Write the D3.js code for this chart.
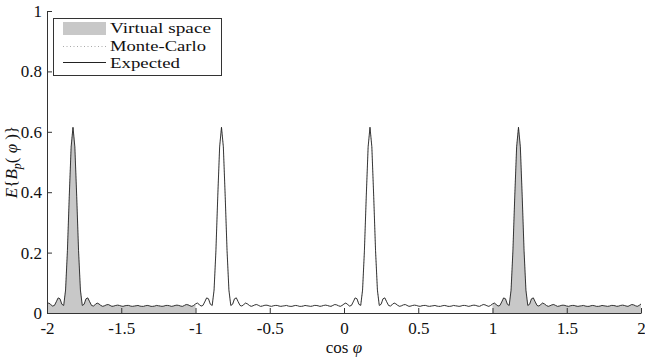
<!DOCTYPE html>
<html>
<head>
<meta charset="utf-8">
<script src="https://cdn.jsdelivr.net/npm/d3@7"></script>
<style>
  html, body { margin: 0; padding: 0; background: #fff; }
  svg { display: block; }
  text { font-family: "Liberation Serif", "DejaVu Serif", serif; fill: #111; }
</style>
</head>
<body>
<svg id="chart" width="645" height="358"></svg>
<script>
// ---- data ----
const xDomain = [-2, 2];
const yDomain = [0, 1];
const xTickValues = [-2, -1.5, -1, -0.5, 0, 0.5, 1, 1.5, 2];
const xTickLabels = ["-2", "-1.5", "-1", "-0.5", "0", "0.5", "1", "1.5", "2"];
const yTickValues = [0, 0.2, 0.4, 0.6, 0.8, 1];
const yTickLabels = ["0", "0.2", "0.4", "0.6", "0.8", "1"];
const virtualSpaceRanges = [[-2, -1], [1, 2]];
const legendLabels = ["Virtual space", "Monte-Carlo", "Expected"];
const sampleStart = -2;
const sampleStep = 0.0125;
// Expected beampattern E{B_p(phi)}, sampled every 0.0125 in cos(phi) from -2 to 2
const expected = [
0.030,0.033,0.028,0.023,0.025,0.037,0.050,0.047,0.029,0.025,0.076,0.206,0.387,0.550,
0.615,
0.550,0.387,0.206,0.076,0.025,0.029,0.047,0.050,0.037,0.025,0.023,0.028,0.033,0.030,0.025,0.022,0.024,0.027,0.028,0.025,0.022,0.023,0.025,0.026,0.025,0.023,0.022,0.024,0.025,0.025,0.023,0.022,0.023,0.024,0.025,0.023,0.022,0.022,0.024,0.025,
0.024,0.022,0.022,0.023,0.025,0.024,0.023,0.022,0.023,0.025,0.025,0.024,0.022,0.023,0.025,0.026,0.025,0.023,0.022,0.025,0.028,0.027,0.024,0.022,0.025,0.030,0.033,0.028,0.023,0.025,0.037,0.050,0.047,0.029,0.025,0.076,0.206,0.387,0.550,
0.615,
0.550,0.387,0.206,0.076,0.025,0.029,0.047,0.050,0.037,0.025,0.023,0.028,0.033,0.030,0.025,0.022,0.024,0.027,0.028,0.025,0.022,0.023,0.025,0.026,0.025,0.023,0.022,0.024,0.025,0.025,0.023,0.022,0.023,0.024,0.025,0.023,0.022,0.022,0.024,0.025,
0.024,0.022,0.022,0.023,0.025,0.024,0.023,0.022,0.023,0.025,0.025,0.024,0.022,0.023,0.025,0.026,0.025,0.023,0.022,0.025,0.028,0.027,0.024,0.022,0.025,0.030,0.033,0.028,0.023,0.025,0.037,0.050,0.047,0.029,0.025,0.076,0.206,0.387,0.550,
0.615,
0.550,0.387,0.206,0.076,0.025,0.029,0.047,0.050,0.037,0.025,0.023,0.028,0.033,0.030,0.025,0.022,0.024,0.027,0.028,0.025,0.022,0.023,0.025,0.026,0.025,0.023,0.022,0.024,0.025,0.025,0.023,0.022,0.023,0.024,0.025,0.023,0.022,0.022,0.024,0.025,
0.024,0.022,0.022,0.023,0.025,0.024,0.023,0.022,0.023,0.025,0.025,0.024,0.022,0.023,0.025,0.026,0.025,0.023,0.022,0.025,0.028,0.027,0.024,0.022,0.025,0.030,0.033,0.028,0.023,0.025,0.037,0.050,0.047,0.029,0.025,0.076,0.206,0.387,0.550,
0.615,
0.550,0.387,0.206,0.076,0.025,0.029,0.047,0.050,0.037,0.025,0.023,0.028,0.033,0.030,0.025,0.022,0.024,0.027,0.028,0.025,0.022,0.023,0.025,0.026,0.025,0.023,0.022,0.024,0.025,0.025,0.023,0.022,0.023,0.024,0.025,0.023,0.022,0.022,0.024,0.025,
0.024,0.022,0.022,0.023,0.025,0.024,0.023,0.022,0.023,0.025,0.025,0.024,0.022,0.023,0.025,0.026,0.025,0.023,0.022,0.025,0.028,0.027,0.024,0.022,0.025,0.030
];

// ---- layout ----
const svg = d3.select("#chart");
const margin = { left: 47, right: 4, top: 11, bottom: 45 };
const W = 645, H = 358;
const x = d3.scaleLinear().domain(xDomain).range([margin.left, W - margin.right]);
const y = d3.scaleLinear().domain(yDomain).range([H - margin.bottom, margin.top]);

const pts = expected.map((v, i) => ({ x: sampleStart + i * sampleStep, y: v }));

// Virtual space fill
const area = d3.area().x(d => x(d.x)).y0(y(0)).y1(d => y(d.y));
virtualSpaceRanges.forEach(r => {
  const sub = pts.filter(d => d.x >= r[0] - 1e-9 && d.x <= r[1] + 1e-9);
  svg.append("path").datum(sub).attr("d", area)
    .attr("fill", "#c8c8c8").attr("stroke", "none");
});

// Monte-Carlo (dotted, hidden beneath expected)
const line = d3.line().x(d => x(d.x)).y(d => y(d.y));
svg.append("path").datum(pts).attr("d", line)
  .attr("fill", "none").attr("stroke", "#bbbbbb").attr("stroke-width", 0.8)
  .attr("stroke-dasharray", "1,2");

// Expected
svg.append("path").datum(pts).attr("d", line)
  .attr("fill", "none").attr("stroke", "#222").attr("stroke-width", 0.9)
  .attr("stroke-linejoin", "round");

// Axes
const xAxis = d3.axisBottom(x).tickValues(xTickValues)
  .tickFormat((d, i) => xTickLabels[i]).tickSizeInner(-5).tickSizeOuter(0).tickPadding(9);
const yAxis = d3.axisLeft(y).tickValues(yTickValues)
  .tickFormat((d, i) => yTickLabels[i]).tickSizeInner(-5).tickSizeOuter(0).tickPadding(5);

const gx = svg.append("g").attr("transform", `translate(0,${y(0)})`).call(xAxis);
const gy = svg.append("g").attr("transform", `translate(${x(-2)},0)`).call(yAxis);
[gx, gy].forEach(g => {
  g.attr("font-family", null);
  g.select(".domain").attr("stroke", "#333").attr("stroke-width", 1);
  g.selectAll(".tick line").attr("stroke", "#333").attr("stroke-width", 1);
  g.selectAll(".tick text").attr("font-family", "Liberation Serif").attr("font-size", 17).attr("fill", "#111");
});

// Axis labels
const xl = svg.append("text").attr("x", x(0)).attr("y", 353)
  .attr("text-anchor", "middle").attr("font-size", 17);
xl.append("tspan").text("cos ");
xl.append("tspan").attr("font-style", "italic").text("φ");

const yl = svg.append("text")
  .attr("transform", `translate(17,${(y(0) + y(1)) / 2}) rotate(-90)`)
  .attr("text-anchor", "middle").attr("font-size", 17);
yl.append("tspan").attr("font-style", "italic").text("E");
yl.append("tspan").text("{");
yl.append("tspan").attr("font-style", "italic").text("B");
yl.append("tspan").attr("font-style", "italic").attr("font-size", 12).attr("dy", 4).text("p");
yl.append("tspan").attr("dy", -4).text("(");
yl.append("tspan").attr("font-style", "italic").text(" φ ");
yl.append("tspan").text(")}");

// Legend
const lg = svg.append("g");
lg.append("rect").attr("x", 53.5).attr("y", 18.5).attr("width", 168).attr("height", 57)
  .attr("fill", "#fff").attr("stroke", "#333").attr("stroke-width", 1);
const rowBase = [33, 50.5, 68];
const rowWidth = [101, 96, 70];
lg.append("rect").attr("x", 63).attr("y", 22).attr("width", 43).attr("height", 13).attr("fill", "#c8c8c8");
lg.append("line").attr("x1", 63).attr("x2", 106).attr("y1", 46.5).attr("y2", 46.5)
  .attr("stroke", "#aaa").attr("stroke-width", 1).attr("stroke-dasharray", "1,2.5");
lg.append("line").attr("x1", 63).attr("x2", 106).attr("y1", 62.5).attr("y2", 62.5)
  .attr("stroke", "#222").attr("stroke-width", 1);
legendLabels.forEach((t, i) => {
  lg.append("text").attr("x", 110).attr("y", rowBase[i]).attr("font-size", 15.5)
    .attr("textLength", rowWidth[i]).attr("lengthAdjust", "spacingAndGlyphs").text(t);
});
</script>
</body>
</html>
